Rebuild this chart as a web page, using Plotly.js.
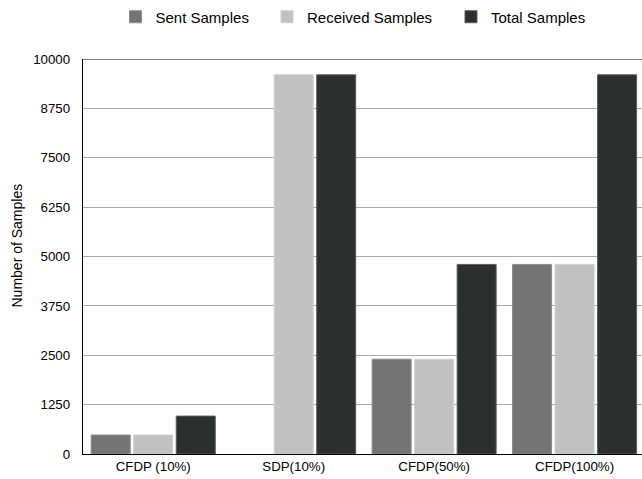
<!DOCTYPE html>
<html>
<head>
<meta charset="utf-8">
<script src="https://cdn.plot.ly/plotly-3.0.1.min.js"></script>
<style>html,body{margin:0;padding:0;background:#fff;}#chart{width:642px;height:479px;}</style>
</head>
<body>
<div id="chart"></div>
<script>
const categories = ["CFDP (10%)", "SDP(10%)", "CFDP(50%)", "CFDP(100%)"];
const sentSamples = [480, 0, 2400, 4800];
const receivedSamples = [480, 9600, 2400, 4800];
const totalSamples = [960, 9600, 4800, 9600];
const seriesNames = ["Sent Samples", "Received Samples", "Total Samples"];
const yTicks = [0, 1250, 2500, 3750, 5000, 6250, 7500, 8750, 10000];
const yTitle = "Number of Samples";

const colors = ["#737473", "#c0c1c0", "#2d2f2e"];
const edges = ["#8a8b8a", "#d0d1d0", "#5a5c5b"];
const legendMarkerX = [135.5, 287, 471];
const legendIds = ["legend", "legend2", "legend3"];
const font = "Liberation Sans, Arial, Helvetica, sans-serif";

const traces = [sentSamples, receivedSamples, totalSamples].map((vals, i) => ({
  type: "bar",
  name: seriesNames[i],
  x: categories,
  y: vals,
  legend: legendIds[i],
  marker: {color: colors[i], line: {color: edges[i], width: vals.map(v => v > 0 ? 1 : 0)}},
  hoverinfo: "none"
}));

const layout = {
  width: 642, height: 479,
  margin: {l: 83, r: 0, t: 59, b: 25},
  paper_bgcolor: "#fff", plot_bgcolor: "#fff",
  font: {family: font, color: "#000", size: 13.3},
  barmode: "group",
  bargap: 0.092,
  bargroupgap: 0.082,
  showlegend: true,
  xaxis: {
    type: "category", range: [-0.5, 3.48],
    showline: true, linecolor: "#000", linewidth: 1.2,
    showgrid: false, ticks: "", zeroline: false,
    tickfont: {size: 13.3}
  },
  yaxis: {
    range: [0, 10000], tickmode: "array", tickvals: yTicks,
    ticktext: yTicks.map(String),
    showline: true, linecolor: "#000", linewidth: 1.2,
    showgrid: true, gridcolor: "#aaaaaa", gridwidth: 1.2,
    zeroline: false, ticks: "outside", ticklen: 9, tickcolor: "rgba(0,0,0,0)",
    tickfont: {size: 13.3}
  },
  annotations: [{
    text: yTitle, textangle: -90, showarrow: false,
    xref: "paper", yref: "paper",
    x: (16.5 - 83) / 559, y: (454 - 246) / 395,
    xanchor: "center", yanchor: "middle",
    font: {size: 14, family: font, color: "#000"}
  }],
  shapes: [{type: "line", xref: "paper", yref: "y", x0: 0, x1: 1, y0: 10000, y1: 10000,
            line: {color: "#000", width: 1.2}, layer: "above"}]
};

legendIds.forEach((id, i) => {
  layout[id] = {
    orientation: "h",
    xref: "container", x: (legendMarkerX[i] - 20) / 642, xanchor: "left",
    yref: "container", y: 1 - 17 / 479, yanchor: "middle",
    font: {size: 15, family: font, color: "#000"},
    bgcolor: "rgba(0,0,0,0)", borderwidth: 0
  };
});

Plotly.newPlot("chart", traces, layout, {staticPlot: true, displayModeBar: false});
</script>
</body>
</html>
